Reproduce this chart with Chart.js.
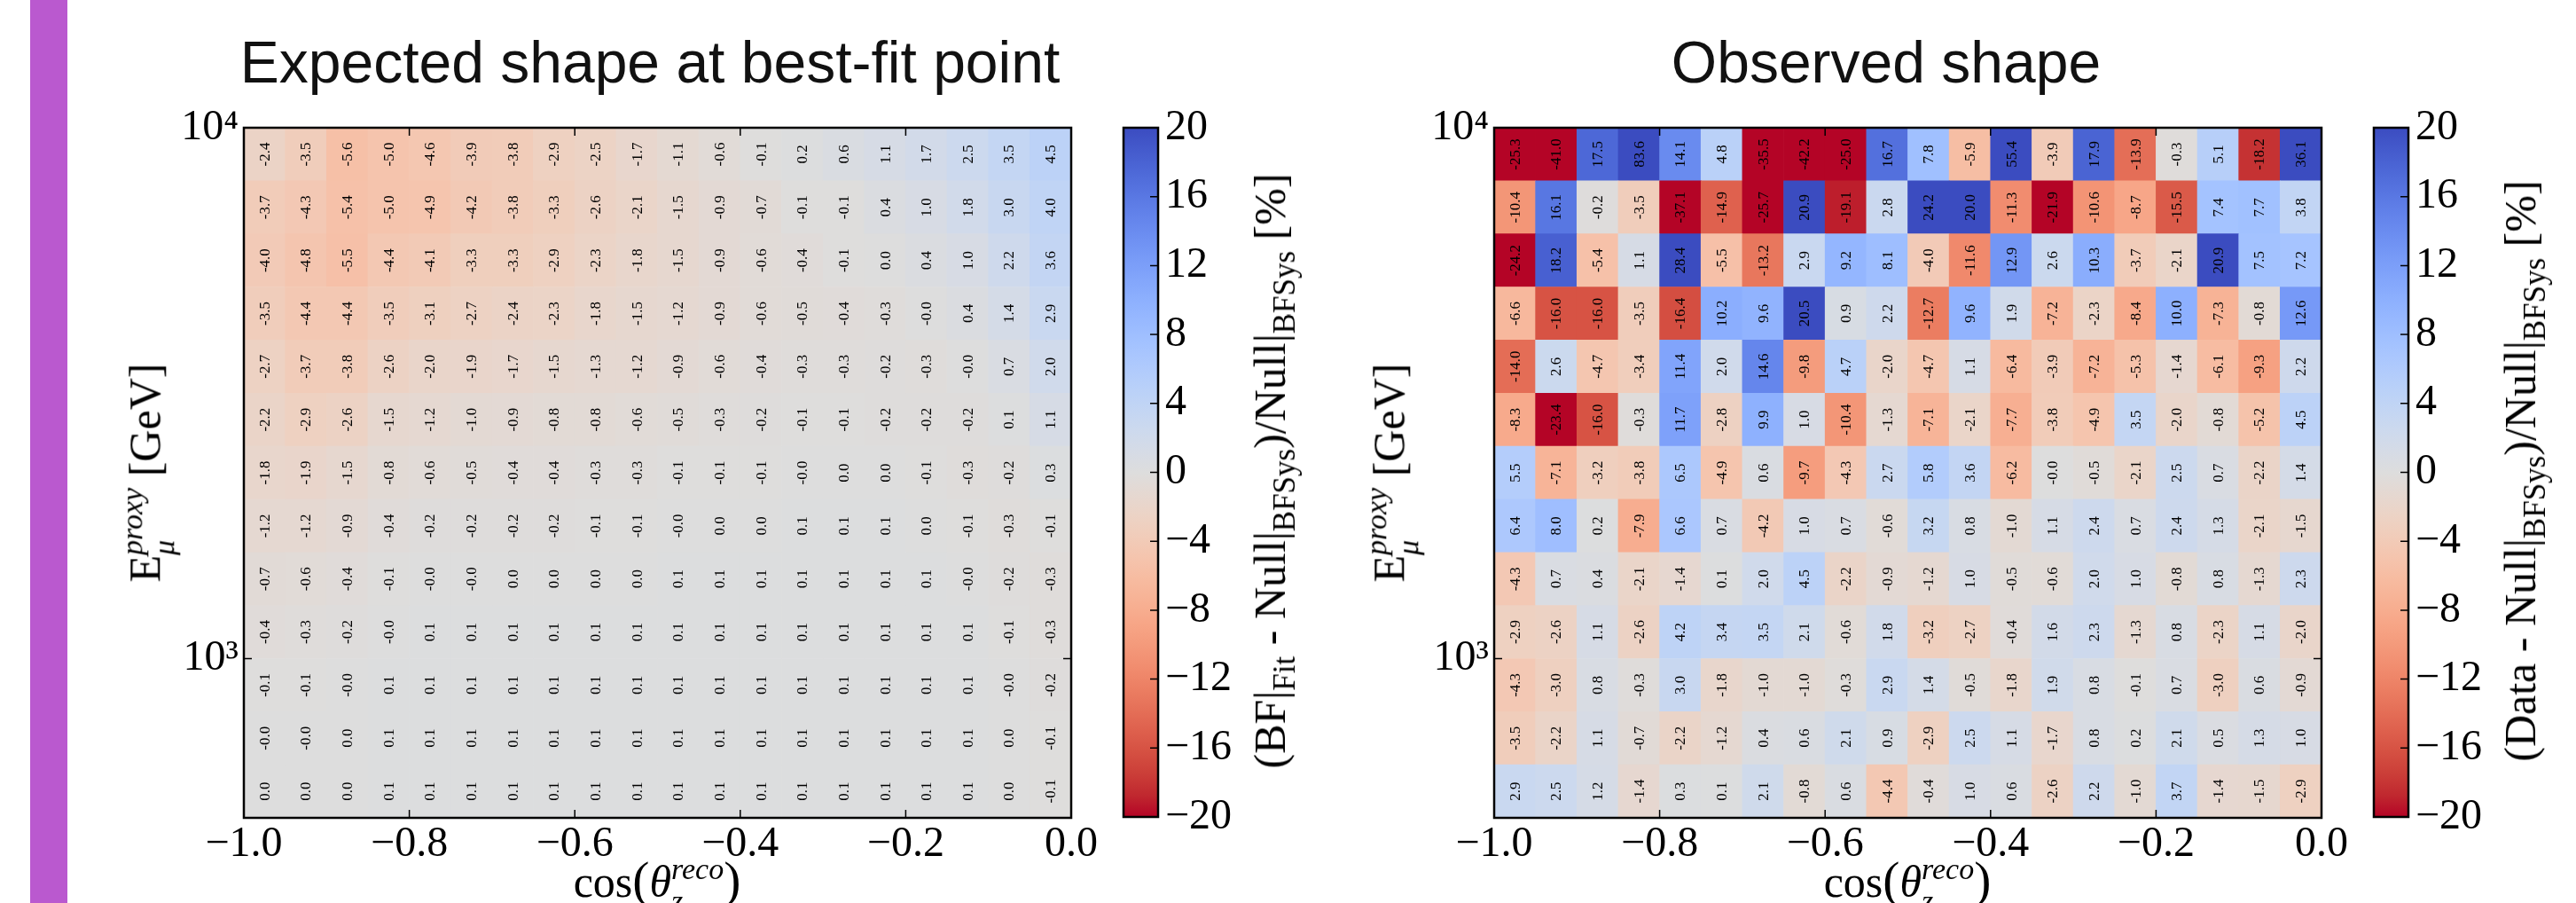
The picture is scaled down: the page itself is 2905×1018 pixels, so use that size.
<!DOCTYPE html>
<html>
<head>
<meta charset="utf-8">
<script src="https://cdn.jsdelivr.net/npm/chart.js@4.4.1/dist/chart.umd.min.js"></script>
<style>
  html, body { margin: 0; padding: 0; background: #fff; }
  body { width: 2905px; height: 1018px; position: relative; overflow: hidden; }
  canvas { position: absolute; }
  .side { position: absolute; left: 34px; top: 0; width: 42px; height: 1018px; background: #ba59cf; }
  .title { position: absolute; top: 37px; font-family: "Liberation Sans", Arial, sans-serif; font-weight: 300;
           font-size: 66px; line-height: 1; white-space: nowrap; transform: translateX(-50%); color: #111; }
  .lbl { position: absolute; font-family: "Liberation Serif", serif; font-size: 50px; line-height: 1;
         white-space: nowrap; color: #000; }
  .rot { transform: translate(-50%, -50%) rotate(-90deg); }
  .xl { transform: translateX(-50%); }
  .ss { display: inline-flex; flex-direction: column; font-size: 0.68em; line-height: 1.05;
        vertical-align: 20px; font-style: italic; }
  sub { font-size: 0.7em; vertical-align: -0.3em; line-height: 0; }
  .big { font-size: 1.15em; }
</style>
</head>
<body>
<div class="side"></div>

<canvas id="expected" width="1100" height="918" style="left:180px; top:100px"></canvas>
<canvas id="cbLeft" width="200" height="918" style="left:1240px; top:100px"></canvas>
<canvas id="observed" width="1100" height="918" style="left:1590px; top:100px"></canvas>
<canvas id="cbRight" width="200" height="918" style="left:2650px; top:100px"></canvas>

<div class="title" style="left:733px">Expected shape at best-fit point</div>
<div class="title" style="left:2127px">Observed shape</div>

<div class="lbl rot" style="left:167px; top:533px">E<span class="ss"><span>proxy</span><span>μ</span></span> [GeV]</div>
<div class="lbl rot" style="left:1570px; top:533px">E<span class="ss"><span>proxy</span><span>μ</span></span> [GeV]</div>

<div class="lbl xl" style="left:741px; top:962px">cos<span class="big">(</span><i>θ</i><span class="ss"><span>reco</span><span>z</span></span><span class="big">)</span></div>
<div class="lbl xl" style="left:2151px; top:962px">cos<span class="big">(</span><i>θ</i><span class="ss"><span>reco</span><span>z</span></span><span class="big">)</span></div>

<div class="lbl rot" style="left:1432px; top:531px">(BF|<sub>Fit</sub> - Null|<sub>BFSys</sub>)/Null|<sub>BFSys</sub> [%]</div>
<div class="lbl rot" style="left:2842px; top:531px">(Data - Null|<sub>BFSys</sub>)/Null|<sub>BFSys</sub> [%]</div>

<script>
// bin edges
const cosEdges = [-1.0, -0.95, -0.9, -0.85, -0.8, -0.75, -0.7, -0.65, -0.6, -0.55, -0.5,
                  -0.45, -0.4, -0.35, -0.3, -0.25, -0.2, -0.15, -0.1, -0.05, 0.0];
const logEEdges = [2.7, 2.8, 2.9, 3.0, 3.1, 3.2, 3.3, 3.4, 3.5, 3.6, 3.7, 3.8, 3.9, 4.0]; // log10(E/GeV)

// rows from the top energy bin (3.9-4.0) down to the bottom one (2.7-2.8), columns from cos = -1 to 0
const expectedRows = [
  [-2.4, -3.5, -5.6, -5.0, -4.6, -3.9, -3.8, -2.9, -2.5, -1.7, -1.1, -0.6, -0.1, 0.2, 0.6, 1.1, 1.7, 2.5, 3.5, 4.5],
  [-3.7, -4.3, -5.4, -5.0, -4.9, -4.2, -3.8, -3.3, -2.6, -2.1, -1.5, -0.9, -0.7, -0.1, -0.1, 0.4, 1.0, 1.8, 3.0, 4.0],
  [-4.0, -4.8, -5.5, -4.4, -4.1, -3.3, -3.3, -2.9, -2.3, -1.8, -1.5, -0.9, -0.6, -0.4, -0.1, 0.0, 0.4, 1.0, 2.2, 3.6],
  [-3.5, -4.4, -4.4, -3.5, -3.1, -2.7, -2.4, -2.3, -1.8, -1.5, -1.2, -0.9, -0.6, -0.5, -0.4, -0.3, -0.0, 0.4, 1.4, 2.9],
  [-2.7, -3.7, -3.8, -2.6, -2.0, -1.9, -1.7, -1.5, -1.3, -1.2, -0.9, -0.6, -0.4, -0.3, -0.3, -0.2, -0.3, -0.0, 0.7, 2.0],
  [-2.2, -2.9, -2.6, -1.5, -1.2, -1.0, -0.9, -0.8, -0.8, -0.6, -0.5, -0.3, -0.2, -0.1, -0.1, -0.2, -0.2, -0.2, 0.1, 1.1],
  [-1.8, -1.9, -1.5, -0.8, -0.6, -0.5, -0.4, -0.4, -0.3, -0.3, -0.1, -0.1, -0.1, -0.0, 0.0, 0.0, -0.1, -0.3, -0.2, 0.3],
  [-1.2, -1.2, -0.9, -0.4, -0.2, -0.2, -0.2, -0.2, -0.1, -0.1, -0.0, 0.0, 0.0, 0.1, 0.1, 0.1, 0.0, -0.1, -0.3, -0.1],
  [-0.7, -0.6, -0.4, -0.1, -0.0, -0.0, 0.0, 0.0, 0.0, 0.0, 0.1, 0.1, 0.1, 0.1, 0.1, 0.1, 0.1, -0.0, -0.2, -0.3],
  [-0.4, -0.3, -0.2, -0.0, 0.1, 0.1, 0.1, 0.1, 0.1, 0.1, 0.1, 0.1, 0.1, 0.1, 0.1, 0.1, 0.1, 0.1, -0.1, -0.3],
  [-0.1, -0.1, -0.0, 0.1, 0.1, 0.1, 0.1, 0.1, 0.1, 0.1, 0.1, 0.1, 0.1, 0.1, 0.1, 0.1, 0.1, 0.1, -0.0, -0.2],
  [-0.0, -0.0, 0.0, 0.1, 0.1, 0.1, 0.1, 0.1, 0.1, 0.1, 0.1, 0.1, 0.1, 0.1, 0.1, 0.1, 0.1, 0.1, 0.0, -0.1],
  [0.0, 0.0, 0.0, 0.1, 0.1, 0.1, 0.1, 0.1, 0.1, 0.1, 0.1, 0.1, 0.1, 0.1, 0.1, 0.1, 0.1, 0.1, 0.0, -0.1]
];

const observedRows = [
  [-25.3, -41.0, 17.5, 83.6, 14.1, 4.8, -35.5, -42.2, -25.0, 16.7, 7.8, -5.9, 55.4, -3.9, 17.9, -13.9, -0.3, 5.1, -18.2, 36.1],
  [-10.4, 16.1, -0.2, -3.5, -37.1, -14.9, -25.7, 20.9, -19.1, 2.8, 24.2, 20.0, -11.3, -21.9, -10.6, -8.7, -15.5, 7.4, 7.7, 3.8],
  [-24.2, 18.2, -5.4, 1.1, 28.4, -5.5, -13.2, 2.9, 9.2, 8.1, -4.0, -11.6, 12.9, 2.6, 10.3, -3.7, -2.1, 20.9, 7.5, 7.2],
  [-6.6, -16.0, -16.0, -3.5, -16.4, 10.2, 9.6, 20.5, 0.9, 2.2, -12.7, 9.6, 1.9, -7.2, -2.3, -8.4, 10.0, -7.3, -0.8, 12.6],
  [-14.0, 2.6, -4.7, -3.4, 11.4, 2.0, 14.6, -9.8, 4.7, -2.0, -4.7, 1.1, -6.4, -3.9, -7.2, -5.3, -1.4, -6.1, -9.3, 2.2],
  [-8.3, -23.4, -16.0, -0.3, 11.7, -2.8, 9.9, 1.0, -10.4, -1.3, -7.1, -2.1, -7.7, -3.8, -4.9, 3.5, -2.0, -0.8, -5.2, 4.5],
  [5.5, -7.1, -3.2, -3.8, 6.5, -4.9, 0.6, -9.7, -4.3, 2.7, 5.8, 3.6, -6.2, -0.0, -0.5, -2.1, 2.5, 0.7, -2.2, 1.4],
  [6.4, 8.0, 0.2, -7.9, 6.6, 0.7, -4.2, 1.0, 0.7, -0.6, 3.2, 0.8, -1.0, 1.1, 2.4, 0.7, 2.4, 1.3, -2.1, -1.5],
  [-4.3, 0.7, 0.4, -2.1, -1.4, 0.1, 2.0, 4.5, -2.2, -0.9, -1.2, 1.0, -0.5, -0.6, 2.0, 1.0, -0.8, 0.8, -1.3, 2.3],
  [-2.9, -2.6, 1.1, -2.6, 4.2, 3.4, 3.5, 2.1, -0.6, 1.8, -3.2, -2.7, -0.4, 1.6, 2.3, -1.3, 0.8, -2.3, 1.1, -2.0],
  [-4.3, -3.0, 0.8, -0.3, 3.0, -1.8, -1.0, -1.0, -0.3, 2.9, 1.4, -0.5, -1.8, 1.9, 0.8, -0.1, 0.7, -3.0, 0.6, -0.9],
  [-3.5, -2.2, 1.1, -0.7, -2.2, -1.2, 0.4, 0.6, 2.1, 0.9, -2.9, 2.5, 1.1, -1.7, 0.8, 0.2, 2.1, 0.5, 1.3, 1.0],
  [2.9, 2.5, 1.2, -1.4, 0.3, 0.1, 2.1, -0.8, 0.6, -4.4, -0.4, 1.0, 0.6, -2.6, 2.2, -1.0, 3.7, -1.4, -1.5, -2.9]
];

const xTickValues = [-1.0, -0.8, -0.6, -0.4, -0.2, 0.0];
const xTickLabels = ['−1.0', '−0.8', '−0.6', '−0.4', '−0.2', '0.0'];
const yTickValues = [1000, 10000];
const yTickLabels = ['10³', '10⁴'];
const cbTickValues = [-20, -16, -12, -8, -4, 0, 4, 8, 12, 16, 20];
const cbTickLabels = ['−20', '−16', '−12', '−8', '−4', '0', '4', '8', '12', '16', '20'];
const colorRange = [-20, 20];

// matplotlib coolwarm, 33 samples (blue -> red); the plot uses it reversed
const coolwarm = [
  [59,76,192],[68,90,204],[77,104,215],[87,117,225],[98,130,234],[108,142,241],[119,154,247],
  [130,165,251],[141,176,254],[152,185,255],[163,194,255],[174,201,253],[184,208,249],[194,213,244],
  [204,217,238],[213,219,230],[221,221,221],[229,216,209],[236,211,197],[241,204,185],[245,196,173],
  [247,187,160],[247,177,148],[247,166,135],[244,154,123],[241,141,111],[236,127,99],[229,112,88],
  [222,96,77],[213,80,66],[203,62,56],[192,40,47],[180,4,38]
];

const AXIS_FONT = { family: 'Liberation Serif', size: 48 };

function rgb(c) { return 'rgb(' + c.map(Math.round).join(',') + ')'; }

function cmap(v) {
  let t = 1 - (v - colorRange[0]) / (colorRange[1] - colorRange[0]);
  t = Math.min(1, Math.max(0, t));
  const f = t * (coolwarm.length - 1);
  const i = Math.min(Math.floor(f), coolwarm.length - 2);
  const w = f - i;
  const a = coolwarm[i], b = coolwarm[i + 1];
  return rgb([0, 1, 2].map(k => a[k] + (b[k] - a[k]) * w));
}

function fmt(v) {
  return (v < 0 || Object.is(v, -0) ? '-' : '') + Math.abs(v).toFixed(1);
}

function cells(rows) {
  const out = [];
  rows.forEach((row, r) => {
    const k = logEEdges.length - 2 - r;
    const lo = Math.pow(10, logEEdges[k]);
    const hi = Math.pow(10, logEEdges[k + 1]);
    row.forEach((v, c) => {
      out.push({ x: (cosEdges[c] + cosEdges[c + 1]) / 2, y: [lo, hi], v: v });
    });
  });
  return out;
}

// numbers written in every cell, rotated like the original
const cellText = {
  id: 'cellText',
  afterDatasetsDraw(chart) {
    const ctx = chart.ctx;
    const meta = chart.getDatasetMeta(0);
    const data = chart.data.datasets[0].data;
    ctx.save();
    ctx.fillStyle = '#000';
    ctx.font = '17px "Liberation Serif"';
    ctx.textAlign = 'center';
    ctx.textBaseline = 'middle';
    meta.data.forEach((el, i) => {
      const p = el.getProps(['x', 'y', 'base'], true);
      ctx.save();
      ctx.translate(p.x, (p.y + p.base) / 2);
      ctx.rotate(-Math.PI / 2);
      ctx.fillText(fmt(data[i].v), 0, 1);
      ctx.restore();
    });
    ctx.restore();
  }
};

// black box round the plot area and inward tick marks
const frame = {
  id: 'frame',
  afterDraw(chart, args, opts) {
    const { ctx, chartArea: a, scales } = chart;
    const tl = 9;
    ctx.save();
    ctx.strokeStyle = '#000';
    ctx.lineWidth = 1.5;
    ctx.beginPath();
    (opts.x || []).forEach(side => {
      scales.x.ticks.forEach(t => {
        const px = scales.x.getPixelForValue(t.value);
        const y0 = side === 'bottom' ? a.bottom : a.top;
        ctx.moveTo(px, y0);
        ctx.lineTo(px, side === 'bottom' ? y0 - tl : y0 + tl);
      });
    });
    (opts.y || []).forEach(side => {
      scales.y.ticks.forEach(t => {
        const py = scales.y.getPixelForValue(t.value);
        const x0 = side === 'left' ? a.left : a.right;
        ctx.moveTo(x0, py);
        ctx.lineTo(side === 'left' ? x0 + tl : x0 - tl, py);
      });
    });
    ctx.stroke();
    ctx.lineWidth = 2.5;
    ctx.strokeRect(a.left, a.top, a.right - a.left, a.bottom - a.top);
    ctx.restore();
  }
};

function heatmap(id, rows) {
  return new Chart(document.getElementById(id), {
    type: 'bar',
    data: {
      datasets: [{
        data: cells(rows),
        backgroundColor: c => cmap(c.raw.v),
        borderWidth: 0,
        barPercentage: 1,
        categoryPercentage: 1
      }]
    },
    options: {
      responsive: false,
      animation: false,
      devicePixelRatio: 1,
      layout: { padding: { top: 44, right: 72, left: 0, bottom: 0 } },
      plugins: {
        legend: { display: false },
        tooltip: { enabled: false },
        frame: { x: ['bottom', 'top'], y: ['left', 'right'] }
      },
      scales: {
        x: {
          type: 'linear',
          min: cosEdges[0],
          max: cosEdges[cosEdges.length - 1],
          offset: false,
          grid: { display: false, drawTicks: false },
          border: { display: false },
          afterBuildTicks: s => { s.ticks = xTickValues.map(value => ({ value })); },
          afterFit: s => { s.height = 96; },
          ticks: {
            autoSkip: false, maxRotation: 0, padding: 2, color: '#000', font: AXIS_FONT,
            callback: (v, i) => xTickLabels[i]
          }
        },
        y: {
          type: 'logarithmic',
          min: Math.pow(10, logEEdges[0]),
          max: Math.pow(10, logEEdges[logEEdges.length - 1]),
          grid: { display: false, drawTicks: false },
          border: { display: false },
          afterBuildTicks: s => { s.ticks = yTickValues.map(value => ({ value })); },
          afterFit: s => { s.width = 95; },
          ticks: {
            autoSkip: false, padding: 6, color: '#000', font: AXIS_FONT,
            callback: (v, i) => yTickLabels[i]
          }
        }
      }
    },
    plugins: [cellText, frame]
  });
}

function gradientFill(c) {
  const { ctx, chartArea } = c.chart;
  if (!chartArea) return null;
  const g = ctx.createLinearGradient(0, chartArea.bottom, 0, chartArea.top);
  const n = coolwarm.length;
  coolwarm.forEach((col, i) => g.addColorStop(i / (n - 1), rgb(coolwarm[n - 1 - i])));
  return g;
}

function colorbar(id) {
  return new Chart(document.getElementById(id), {
    type: 'bar',
    data: {
      labels: [''],
      datasets: [{
        data: [colorRange],
        backgroundColor: gradientFill,
        borderWidth: 0,
        barPercentage: 1,
        categoryPercentage: 1
      }]
    },
    options: {
      responsive: false,
      animation: false,
      devicePixelRatio: 1,
      layout: { padding: { top: 44, bottom: 97, left: 27, right: 0 } },
      plugins: {
        legend: { display: false },
        tooltip: { enabled: false },
        frame: { y: ['right'] }
      },
      scales: {
        x: { display: false },
        y: {
          position: 'right',
          min: colorRange[0],
          max: colorRange[1],
          grid: { display: false, drawTicks: false },
          border: { display: false },
          afterBuildTicks: s => { s.ticks = cbTickValues.map(value => ({ value })); },
          afterFit: s => { s.width = 134; },
          ticks: {
            autoSkip: false, padding: 8, color: '#000', font: AXIS_FONT,
            callback: (v, i) => cbTickLabels[i]
          }
        }
      }
    },
    plugins: [frame]
  });
}

heatmap('expected', expectedRows);
colorbar('cbLeft');
heatmap('observed', observedRows);
colorbar('cbRight');
</script>
</body>
</html>
